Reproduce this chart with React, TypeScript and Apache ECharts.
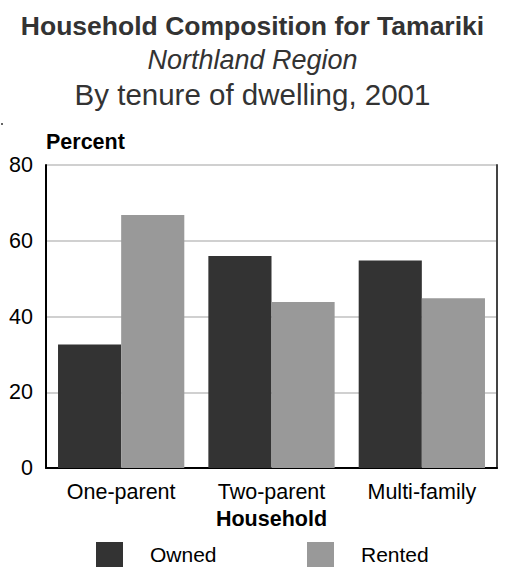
import React, { useEffect, useRef } from "react";
import * as echarts from "echarts";

const categories = ["One-parent", "Two-parent", "Multi-family"];
const owned = [32.6, 56.0, 54.8];
const rented = [66.8, 43.8, 44.8];
const yTicks = { min: 0, max: 80, interval: 20 };

export default function App() {
  const ref = useRef<HTMLDivElement>(null);
  useEffect(() => {
    if (!ref.current) return;
    const chart = echarts.init(ref.current, undefined, { renderer: "svg" });
    const font = "Liberation Sans, Arial, sans-serif";
    chart.setOption({
      animation: false,
      backgroundColor: "#ffffff",
      textStyle: { fontFamily: font },
      title: [
        {
          text: "Household Composition for Tamariki",
          left: "center",
          top: 7,
          textStyle: { fontFamily: font, fontSize: 26.5, fontWeight: "bold", color: "#333333" },
        },
        {
          text: "Northland Region",
          left: "center",
          top: 41,
          textStyle: { fontFamily: font, fontSize: 27, fontStyle: "italic", fontWeight: "normal", color: "#333333" },
        },
        {
          text: "By tenure of dwelling, 2001",
          left: "center",
          top: 74,
          textStyle: { fontFamily: font, fontSize: 29.5, fontWeight: "normal", color: "#333333" },
        },
      ],
      legend: [
        {
          data: ["Owned"],
          icon: "rect",
          left: 96,
          top: 542,
          padding: 0,
          itemWidth: 27,
          itemHeight: 25,
          textStyle: { fontFamily: font, fontSize: 21, lineHeight: 22, color: "#000", padding: [0, 0, 0, 22] },
        },
        {
          data: ["Rented"],
          icon: "rect",
          left: 307,
          top: 542,
          padding: 0,
          itemWidth: 27,
          itemHeight: 25,
          textStyle: { fontFamily: font, fontSize: 21, lineHeight: 22, color: "#000", padding: [0, 0, 0, 22] },
        },
      ],
      grid: { left: 46, right: 8, top: 165, bottom: 100, containLabel: false },
      xAxis: {
        type: "category",
        data: categories,
        name: "Household",
        nameLocation: "middle",
        nameGap: 40,
        nameTextStyle: { fontFamily: font, fontSize: 21.5, fontWeight: "bold", color: "#000" },
        axisLine: { lineStyle: { color: "#000", width: 2 } },
        axisTick: { show: false },
        axisLabel: { fontFamily: font, fontSize: 21.5, color: "#000", margin: 13 },
      },
      yAxis: [
        {
          type: "value",
          min: yTicks.min,
          max: yTicks.max,
          interval: yTicks.interval,
          name: "Percent",
          nameLocation: "end",
          nameGap: 12,
          nameTextStyle: { fontFamily: font, fontSize: 21.5, fontWeight: "bold", color: "#000", align: "left" },
          axisLine: { show: true, lineStyle: { color: "#000", width: 2 } },
          axisTick: { show: false },
          axisLabel: { fontFamily: font, fontSize: 21.5, color: "#000", margin: 13 },
          splitLine: { lineStyle: { color: "#d0d0d0", width: 2 } },
        },
        {
          type: "value",
          min: yTicks.min,
          max: yTicks.max,
          interval: yTicks.interval,
          position: "right",
          axisLine: { show: true, lineStyle: { color: "#444", width: 2 } },
          axisTick: { show: false },
          axisLabel: { show: false },
          splitLine: { show: false },
        },
      ],
      series: [
        {
          name: "Owned",
          type: "bar",
          data: owned,
          barGap: "0%",
          barCategoryGap: "16%",
          itemStyle: { color: "#333333" },
        },
        {
          name: "Rented",
          type: "bar",
          data: rented,
          barGap: "0%",
          barCategoryGap: "16%",
          itemStyle: { color: "#999999" },
        },
      ],
      graphic: [
        { type: "rect", left: 1, top: 123, shape: { width: 2, height: 2 }, style: { fill: "#666" } },
      ],
    });
    return () => chart.dispose();
  }, []);
  return <div ref={ref} style={{ width: 505, height: 568, position: "absolute", left: 0, top: 0 }} />;
}
